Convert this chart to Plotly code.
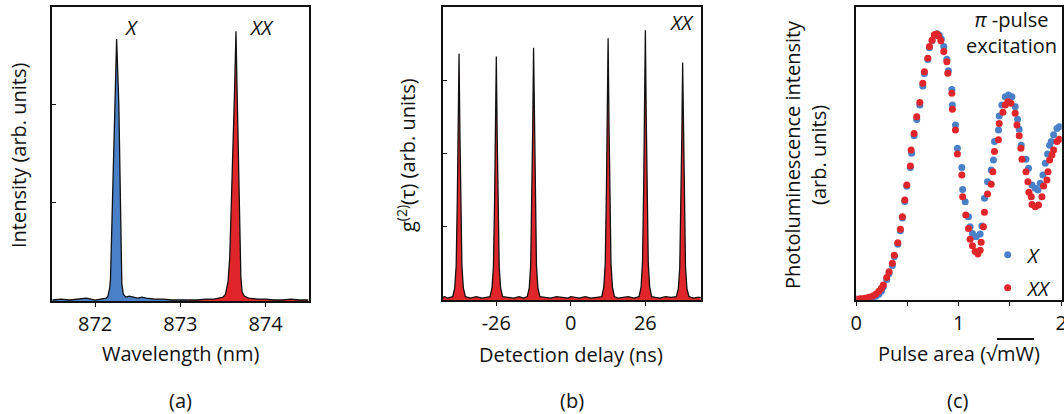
import plotly.graph_objects as go

# ---------------- Panel (a): emission spectrum ----------------
wavelength_x = [871.50, 871.60, 871.70, 871.80, 871.90, 872.00, 872.08, 872.13, 872.15, 872.17,
                872.18, 872.195, 872.207, 872.23, 872.252, 872.278, 872.293, 872.305, 872.313, 872.33,
                872.36, 872.40, 872.45, 872.50, 872.55, 872.60, 872.70, 872.80, 872.90, 873.00, 873.10]
intensity_x = [0.01, 0.02, 0.01, 0.02, 0.03, 0.01, 0.02, 0.03, 0.05, 0.13,
               0.22, 0.70, 1.30, 2.00, 2.67, 2.00, 1.30, 0.60, 0.18, 0.07,
               0.04, 0.05, 0.04, 0.03, 0.04, 0.03, 0.02, 0.02, 0.01, 0.01, 0.01]

wavelength_xx = [873.10, 873.20, 873.30, 873.40, 873.45, 873.50, 873.53, 873.56, 873.58, 873.60,
                 873.615, 873.635, 873.653, 873.665, 873.68, 873.695, 873.71, 873.725, 873.75, 873.80,
                 873.90, 874.00, 874.10, 874.20, 874.30, 874.40, 874.50]
intensity_xx = [0.01, 0.01, 0.02, 0.02, 0.03, 0.04, 0.07, 0.20, 0.45, 0.95,
                1.50, 2.10, 2.75, 2.20, 1.40, 0.70, 0.25, 0.09, 0.05, 0.03,
                0.02, 0.02, 0.01, 0.01, 0.02, 0.01, 0.01]

# ---------------- Panel (b): XX autocorrelation ----------------
delay_ns = [-45.0, -44.0, -43.0, -42.0,
            -41.2, -40.5, -40.0, -39.6, -39.3, -39.0, -38.7, -38.4, -38.0, -37.5, -36.8,
            -35.0, -33.0, -31.0, -29.5,
            -28.2, -27.5, -27.0, -26.6, -26.3, -26.0, -25.7, -25.4, -25.0, -24.5, -23.8,
            -22.0, -20.0, -18.0, -16.5,
            -15.2, -14.5, -14.0, -13.6, -13.3, -13.0, -12.7, -12.4, -12.0, -11.5, -10.8,
            -9.0, -7.0, -5.0, -3.0, -1.0, 0.0, 1.0, 3.0, 5.0, 7.0, 9.0,
            10.8, 11.5, 12.0, 12.4, 12.7, 13.0, 13.3, 13.6, 14.0, 14.5, 15.2,
            16.5, 18.0, 20.0, 22.0,
            23.8, 24.5, 25.0, 25.4, 25.7, 26.0, 26.3, 26.6, 27.0, 27.5, 28.2,
            29.5, 31.0, 33.0, 35.0,
            36.8, 37.5, 38.0, 38.4, 38.7, 39.0, 39.3, 39.6, 40.0, 40.5, 41.2,
            42.0, 43.0, 44.0, 45.5]
coincidences = [0.04, 0.05, 0.03, 0.04,
                0.05, 0.17, 0.47, 1.38, 2.28, 3.36, 2.28, 1.38, 0.47, 0.17, 0.05,
                0.03, 0.05, 0.03, 0.04,
                0.05, 0.17, 0.46, 1.36, 2.26, 3.32, 2.26, 1.36, 0.46, 0.17, 0.05,
                0.04, 0.03, 0.05, 0.03,
                0.05, 0.17, 0.48, 1.41, 2.34, 3.44, 2.34, 1.41, 0.48, 0.17, 0.05,
                0.04, 0.03, 0.05, 0.04, 0.03, 0.05, 0.04, 0.03, 0.05, 0.03, 0.04,
                0.05, 0.18, 0.50, 1.46, 2.43, 3.57, 2.43, 1.46, 0.50, 0.18, 0.05,
                0.03, 0.04, 0.05, 0.03,
                0.05, 0.18, 0.52, 1.51, 2.50, 3.68, 2.50, 1.51, 0.52, 0.18, 0.05,
                0.04, 0.03, 0.05, 0.04,
                0.05, 0.16, 0.45, 1.33, 2.20, 3.24, 2.20, 1.33, 0.45, 0.16, 0.05,
                0.04, 0.03, 0.04, 0.04]
delay_ticks = [-26, 0, 26]
delay_ticktext = ["-26", "0", "26"]

# ---------------- Panel (c): Rabi oscillations ----------------
area_xx = [0.00, 0.04, 0.08, 0.12, 0.16, 0.19, 0.22, 0.245, 0.264, 0.297, 0.320, 0.352, 0.371,
           0.405, 0.430, 0.450, 0.473, 0.493, 0.528, 0.535, 0.564, 0.590, 0.620, 0.649,
           0.665, 0.698, 0.714, 0.740, 0.762, 0.786, 0.802, 0.825, 0.854, 0.884, 0.893,
           0.933, 0.938, 0.968, 0.987, 1.030, 1.038, 1.069, 1.095, 1.111, 1.134, 1.160,
           1.187, 1.209, 1.219, 1.241, 1.251, 1.281, 1.317, 1.333, 1.349, 1.388, 1.395,
           1.431, 1.454, 1.480, 1.509, 1.551, 1.568, 1.590, 1.607, 1.617, 1.656, 1.675,
           1.685, 1.708, 1.715, 1.747, 1.779, 1.812, 1.828, 1.861, 1.871, 1.887, 1.910,
           1.926, 1.959, 1.981]
pl_xx = [0.003, 0.004, 0.006, 0.009, 0.014, 0.020, 0.030, 0.040, 0.051, 0.077, 0.096, 0.125, 0.153,
         0.195, 0.241, 0.284, 0.341, 0.392, 0.457, 0.511, 0.568, 0.625, 0.673, 0.739,
         0.778, 0.824, 0.864, 0.886, 0.904, 0.907, 0.900, 0.884, 0.847, 0.812, 0.773,
         0.705, 0.650, 0.580, 0.498, 0.426, 0.352, 0.290, 0.244, 0.207, 0.185, 0.165,
         0.157, 0.170, 0.197, 0.250, 0.299, 0.361, 0.395, 0.437, 0.506, 0.546, 0.602,
         0.640, 0.665, 0.676, 0.671, 0.637, 0.597, 0.560, 0.517, 0.480, 0.437, 0.403,
         0.367, 0.352, 0.326, 0.318, 0.324, 0.352, 0.389, 0.409, 0.437, 0.477, 0.494,
         0.511, 0.540, 0.548]

area_x = [0.00, 0.04, 0.08, 0.12, 0.16, 0.19, 0.22, 0.245, 0.264, 0.297, 0.320, 0.352, 0.371,
          0.405, 0.430, 0.450, 0.473, 0.493, 0.528, 0.540, 0.564, 0.590, 0.620, 0.649,
          0.665, 0.698, 0.714, 0.740, 0.765, 0.790, 0.810, 0.830, 0.854, 0.884, 0.899,
          0.933, 0.938, 0.968, 0.987, 1.030, 1.038, 1.063, 1.095, 1.111, 1.134, 1.170,
          1.209, 1.226, 1.251, 1.281, 1.317, 1.339, 1.349, 1.388, 1.395, 1.421, 1.454,
          1.486, 1.519, 1.551, 1.574, 1.590, 1.610, 1.656, 1.681, 1.715, 1.747, 1.773,
          1.796, 1.822, 1.845, 1.867, 1.887, 1.903, 1.926, 1.959, 1.981]
pl_x = [0.002, 0.003, 0.004, 0.006, 0.009, 0.013, 0.020, 0.030, 0.045, 0.070, 0.090, 0.118, 0.148,
        0.190, 0.236, 0.280, 0.336, 0.388, 0.452, 0.500, 0.560, 0.615, 0.665, 0.730,
        0.772, 0.820, 0.860, 0.885, 0.903, 0.908, 0.903, 0.890, 0.864, 0.821, 0.782,
        0.718, 0.665, 0.597, 0.517, 0.452, 0.377, 0.335, 0.284, 0.250, 0.227, 0.216,
        0.225, 0.252, 0.347, 0.403, 0.443, 0.477, 0.540, 0.580, 0.627, 0.665, 0.693,
        0.699, 0.693, 0.659, 0.616, 0.582, 0.528, 0.480, 0.449, 0.392, 0.381, 0.375,
        0.398, 0.426, 0.466, 0.498, 0.528, 0.540, 0.563, 0.585, 0.591]

BLUE = "#4a80c8"
RED = "#e0262a"
BLACK = "#111111"
FONT = "Open Sans"
FS = 20

fig = go.Figure()

fig.add_trace(go.Scatter(x=wavelength_x, y=intensity_x, mode="lines", fill="tozeroy",
                         fillcolor=BLUE, line=dict(color=BLACK, width=1.3),
                         xaxis="x", yaxis="y", showlegend=False, hoverinfo="skip"))
fig.add_trace(go.Scatter(x=wavelength_xx, y=intensity_xx, mode="lines", fill="tozeroy",
                         fillcolor=RED, line=dict(color=BLACK, width=1.3),
                         xaxis="x", yaxis="y", showlegend=False, hoverinfo="skip"))

fig.add_trace(go.Scatter(x=delay_ns, y=coincidences, mode="lines", fill="tozeroy",
                         fillcolor=RED, line=dict(color=BLACK, width=1.3),
                         xaxis="x2", yaxis="y2", showlegend=False, hoverinfo="skip"))

fig.add_trace(go.Scatter(x=area_x, y=pl_x, mode="markers", name="<i>X</i>",
                         marker=dict(color=BLUE, size=7), xaxis="x3", yaxis="y3",
                         legendgroup="a"))
fig.add_trace(go.Scatter(x=area_xx, y=pl_xx, mode="markers", name="<i>XX</i>",
                         marker=dict(color=RED, size=7), xaxis="x3", yaxis="y3",
                         legendgroup="b"))

W, H = 1064, 414


def dom_x(a, b):
    return [a / W, b / W]


def dom_y(top, bottom):
    return [(H - bottom) / H, (H - top) / H]


axis_common = dict(showline=True, linecolor=BLACK, linewidth=1.8, mirror=True,
                   showgrid=False, zeroline=False, automargin=False,
                   tickfont=dict(family=FONT, size=FS, color=BLACK),
                   tickcolor=BLACK, ticklen=4, tickwidth=1.2)

fig.update_layout(
    width=W, height=H,
    margin=dict(l=0, r=0, t=0, b=0, autoexpand=False),
    paper_bgcolor="white", plot_bgcolor="white",
    font=dict(family=FONT, size=FS, color=BLACK),
    xaxis=dict(domain=dom_x(51.7, 309), anchor="y", range=[871.49, 874.51],
               tickvals=[872, 873, 874], ticks="outside", **axis_common),
    yaxis=dict(domain=dom_y(6.7, 301), anchor="x", range=[0, 3.0],
               dtick=1, ticks="inside", showticklabels=False, **axis_common),
    xaxis2=dict(domain=dom_x(442.7, 700.7), anchor="y2", range=[-44.7, 45.3],
                tickvals=delay_ticks, ticktext=delay_ticktext, ticks="outside", **axis_common),
    yaxis2=dict(domain=dom_y(6.7, 300.3), anchor="x2", range=[0, 4.0],
                dtick=1, ticks="inside", showticklabels=False, **axis_common),
    xaxis3=dict(domain=dom_x(856.3, 1061.7), anchor="y3", range=[0, 2.005],
                tick0=0, dtick=1, ticks="outside", ticklabeloverflow="allow",
                minor=dict(dtick=0.5, ticks="outside", ticklen=4, tickcolor=BLACK, tickwidth=1.2,
                           showgrid=False),
                **axis_common),
    yaxis3=dict(domain=dom_y(6.7, 300), anchor="x3", range=[0, 1.0],
                ticks="", showticklabels=False, **axis_common),
    legend=dict(x=0.995, xanchor="right", y=0.258, yanchor="bottom",
                bgcolor="rgba(0,0,0,0)", font=dict(family=FONT, size=FS, color=BLACK),
                tracegroupgap=4, itemwidth=30),
)


def ann(text, x, y, angle=0, xref="paper", yref="paper", **kw):
    fig.add_annotation(text=text, x=x, y=y, xref=xref, yref=yref, showarrow=False,
                       textangle=angle, font=dict(family=FONT, size=FS, color=BLACK),
                       xanchor="center", yanchor="middle", **kw)


def px(xp):
    return xp / W


def py(yp):
    return (H - yp) / H


# panel (a)
ann("Intensity (arb. units)", px(18), py(155), angle=-90)
ann("Wavelength (nm)", px(180), py(353))
ann("(a)", px(180), py(400))
ann("<i>X</i>", 872.43, 2.79, xref="x", yref="y")
ann("<i>XX</i>", 873.95, 2.79, xref="x", yref="y")

# panel (b)
ann("g<sup>(2)</sup>(τ) (arb. units)", px(406), py(155), angle=-90)
ann("Detection delay (ns)", px(570.7), py(354))
ann("(b)", px(571.7), py(400))
ann("<i>XX</i>", 38.7, 3.78, xref="x2", yref="y2")

# panel (c)
ann("Photoluminescence intensity<br>(arb. units)", px(805), py(155), angle=-90)
ann("Pulse area (√<span style='text-decoration:overline'>mW</span>)", px(959), py(353))
ann("(c)", px(957), py(400))
ann("<i>π</i> -pulse<br>excitation", 1.517, 0.913, xref="x3", yref="y3")

fig.write_html("out.html", config={"displayModeBar": False},
               post_script="document.body.style.margin='0';")
